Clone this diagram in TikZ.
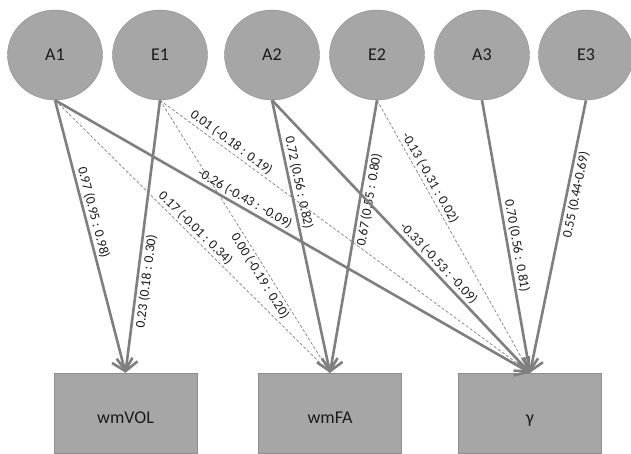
\documentclass[tikz,border=0pt]{standalone}
\usepackage{fontspec}
\setmainfont{Carlito}
\usepackage{tikz}
\usetikzlibrary{arrows.meta, shapes.geometric}
\definecolor{sem-fill}{HTML}{A6A6A6}
\definecolor{sem-edge}{HTML}{8E8E8E}
\definecolor{sem-line}{HTML}{7F7F7F}
\definecolor{sem-text}{HTML}{1A1A1A}

\begin{document}
\begin{tikzpicture}[
    x=1pt, y=-1pt,
    latent/.style={ellipse, draw=sem-edge, fill=sem-fill, minimum width=95pt, minimum height=90pt, font=\fontsize{18}{20}\selectfont, text=sem-text},
    measure/.style={rectangle, draw=sem-edge, fill=sem-fill, minimum width=143pt, minimum height=80pt, font=\fontsize{18}{20}\selectfont, text=sem-text, text height=20pt, text depth=0pt},
    effect/.style={draw=sem-line, line width=2.6pt, -{Straight Barb[length=11pt, width=21pt]}},
    weak/.style={draw=sem-line, line width=0.7pt, dash pattern=on 3pt off 2pt},
    coef/.style={sloped, font=\fontsize{13.5}{15}\selectfont, text=sem-text, inner sep=2pt},
]
    \useasboundingbox (0,0) rectangle (631,453);

    % Latent factors
    \node[latent] (A1) at (55,55) {A1};
    \node[latent] (E1) at (160,55) {E1};
    \node[latent] (A2) at (272,55) {A2};
    \node[latent] (E2) at (377,55) {E2};
    \node[latent] (A3) at (482,55) {A3};
    \node[latent] (E3) at (586,55) {E3};

    % Outcomes
    \node[measure] (wmVOL) at (125.5,413) {wmVOL};
    \node[measure] (wmFA) at (330,413) {wmFA};
    \node[measure] (gamma) at (530,413) {γ};

    % Non-significant paths
    \draw[weak] (E1.south) -- node[coef, above, pos=.18] {0.01 (-0.18 : 0.19)} (gamma.north);
    \draw[weak] (A1.south) -- node[coef, above, pos=.49] {0.17 (-0.01 : 0.34)} (wmFA.north);
    \draw[weak] (E1.south) -- node[coef, below, pos=.63] {0.00 (-0.19 : 0.20)} (wmFA.north);
    \draw[weak] (E2.south) -- node[coef, above, pos=.30] {-0.13 (-0.31 : 0.02)} (gamma.north);

    % Significant paths
    \draw[effect] (A1.south) -- node[coef, above, pos=.42] {0.97 (0.95 : 0.98)} (wmVOL.north);
    \draw[effect] (E1.south) -- node[coef, below, pos=.66] {0.23 (0.18 : 0.30)} (wmVOL.north);
    \draw[effect] (A1.south) -- node[coef, above, pos=.39] {-0.26 (-0.43 : -0.09)} (gamma.north);
    \draw[effect] (A2.south) -- node[coef, above, pos=.31] {0.72 (0.56 : 0.82)} (wmFA.north);
    \draw[effect] (E2.south) -- node[coef, below, pos=.36] {0.67 (0.55 : 0.80)} (wmFA.north);
    \draw[effect] (A2.south) -- node[coef, above, pos=.62] {-0.33 (-0.53 : -0.09)} (gamma.north);
    \draw[effect] (A3.south) -- node[coef, above, pos=.54] {0.70 (0.56 : 0.81)} (gamma.north);
    \draw[effect] (E3.south) -- node[coef, below, pos=.34] {0.55 (0.44-0.69)} (gamma.north);
\end{tikzpicture}
\end{document}
